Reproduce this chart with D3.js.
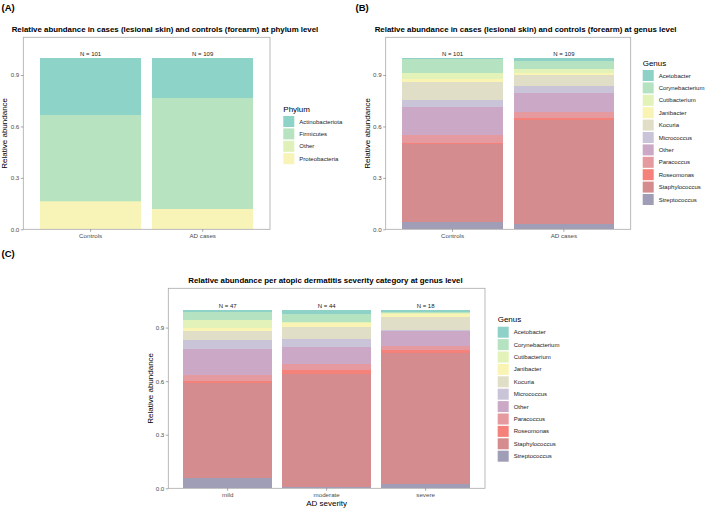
<!DOCTYPE html>
<html>
<head>
<meta charset="utf-8">
<script src="https://cdn.jsdelivr.net/npm/d3@7"></script>
<style>
  body { margin: 0; background: #fff; }
  text { font-family: "Liberation Sans", Arial, sans-serif; }
</style>
</head>
<body>
<svg id="chart" width="708" height="509"></svg>
<script>
// ---- data ----
const yTicks = [0, 0.3, 0.6, 0.9];

const cohortGroups = ["Controls", "AD cases"];
const cohortN = [101, 109];

const severityGroups = ["mild", "moderate", "severe"];
const severityN = [47, 44, 18];

const phylumKeys = ["Actinobacteriota", "Firmicutes", "Other", "Proteobacteria"];
const phylumColors = ["#8dd3c7", "#b7e3c1", "#dff0b9", "#f8f4b8"];
const phylumControls = [0.333, 0.504, 0.006, 0.157];
const phylumAD = [0.234, 0.645, 0.003, 0.118];

const genusKeys = ["Acetobacter", "Corynebacterium", "Cutibacterium", "Janibacter", "Kocuria",
  "Micrococcus", "Other", "Paracoccus", "Roseomonas", "Staphylococcus", "Streptococcus"];
const genusColors = ["#8ed1c6", "#b5e2c1", "#e2f2b8", "#f9f4b3", "#e0dec6",
  "#c9c4d8", "#cba9c6", "#e49a9e", "#f4827a", "#d48c8e", "#a09db6"];
const genusControls = [0.004, 0.087, 0.032, 0.015, 0.109, 0.039, 0.165, 0.044, 0.010, 0.454, 0.041];
const genusAD = [0.020, 0.045, 0.023, 0.013, 0.062, 0.039, 0.113, 0.035, 0.013, 0.608, 0.029];
const genusMild = [0.012, 0.045, 0.043, 0.017, 0.054, 0.047, 0.150, 0.030, 0.015, 0.529, 0.058];
const genusModerate = [0.025, 0.046, 0.006, 0.019, 0.070, 0.043, 0.093, 0.036, 0.021, 0.632, 0.009];
const genusSevere = [0.010, 0.009, 0.006, 0.015, 0.075, 0.004, 0.086, 0.021, 0.014, 0.737, 0.023];

const titleA = "Relative abundance in cases (lesional skin) and controls (forearm) at phylum level";
const titleB = "Relative abundance in cases (lesional skin) and controls (forearm) at genus level";
const titleC = "Relative abundance per atopic dermatitis severity category at genus level";

const svg = d3.select("#chart");
svg.append("rect").attr("width", 708).attr("height", 509).attr("fill", "#fff");

// タイトルの文字サイズを幅から決める
const probe = svg.append("text").attr("font-weight", "bold").attr("font-size", 10).text(titleA);
const titleSize = 10 * 307 / probe.node().getComputedTextLength();
probe.remove();

const drawPanel = (p) => {
  const g = svg.append("g");
  const rows = p.groups.map((grp, i) => {
    const r = { group: grp };
    p.keys.forEach((k, j) => r[k] = p.values[i][j]);
    return r;
  });

  const x = d3.scaleBand()
    .domain(p.groups)
    .range([p.box.left, p.box.right])
    .paddingInner(0.1)
    .paddingOuter(0.15);
  const y = d3.scaleLinear()
    .domain([0, 1.12])
    .range([p.box.bottom, p.box.top]);
  const color = d3.scaleOrdinal().domain(p.keys).range(p.colors);

  // 積み上げ棒 (先頭のカテゴリが上)
  const series = d3.stack().keys(p.keys.slice().reverse())(rows);
  g.append("g")
    .selectAll("g")
    .data(series)
    .join("g")
    .attr("fill", d => color(d.key))
    .selectAll("rect")
    .data(d => d)
    .join("rect")
    .attr("x", d => x(d.data.group))
    .attr("width", x.bandwidth())
    .attr("y", d => y(d[1]))
    .attr("height", d => y(d[0]) - y(d[1]))
    .attr("shape-rendering", "crispEdges");

  // 枠
  g.append("rect")
    .attr("x", p.box.left)
    .attr("y", p.box.top)
    .attr("width", p.box.right - p.box.left)
    .attr("height", p.box.bottom - p.box.top)
    .attr("fill", "none")
    .attr("stroke", "#a8a8a8")
    .attr("stroke-width", 0.8);

  // Y軸
  const yAxis = g.append("g")
    .attr("transform", `translate(${p.box.left},0)`)
    .call(d3.axisLeft(y)
      .tickValues(yTicks)
      .tickFormat(d3.format(".1f"))
      .tickSize(2.5)
      .tickPadding(1.5));
  yAxis.select(".domain").remove();
  yAxis.selectAll("line").attr("stroke", "#555").attr("stroke-width", 0.5);
  yAxis.selectAll("text")
    .attr("fill", "#4d4d4d")
    .attr("font-size", 6.2)
    .attr("font-family", "Liberation Sans, Arial, sans-serif");

  // X軸
  const xAxis = g.append("g")
    .attr("transform", `translate(0,${p.box.bottom})`)
    .call(d3.axisBottom(x).tickSize(2.5).tickPadding(1.5));
  xAxis.select(".domain").remove();
  xAxis.selectAll("line").attr("stroke", "#555").attr("stroke-width", 0.5);
  xAxis.selectAll("text")
    .attr("fill", "#4d4d4d")
    .attr("font-size", 6.2)
    .attr("font-family", "Liberation Sans, Arial, sans-serif");

  // N = ...
  g.selectAll(".nlab")
    .data(p.groups)
    .join("text")
    .attr("x", d => x(d) + x.bandwidth() / 2)
    .attr("y", y(1) - 2.2)
    .attr("text-anchor", "middle")
    .attr("font-size", 6)
    .attr("fill", "#1a1a1a")
    .text((d, i) => `N = ${p.counts[i]}`);

  // 軸タイトル
  g.append("text")
    .attr("transform", `translate(${p.yTitleX},${(p.box.top + p.box.bottom) / 2}) rotate(-90)`)
    .attr("text-anchor", "middle")
    .attr("font-size", 8)
    .attr("fill", "#000")
    .text("Relative abundance");
  if (p.xTitle) {
    g.append("text")
      .attr("x", (p.box.left + p.box.right) / 2)
      .attr("y", p.box.bottom + 17.5)
      .attr("text-anchor", "middle")
      .attr("font-size", 8)
      .attr("fill", "#000")
      .text(p.xTitle);
  }

  // パネルのタグとタイトル
  g.append("text")
    .attr("x", p.tagX)
    .attr("y", p.tagY)
    .attr("font-weight", "bold")
    .attr("font-size", 9.5)
    .attr("fill", "#000")
    .text(p.tag);
  g.append("text")
    .attr("x", p.titleX)
    .attr("y", p.titleY)
    .attr("font-weight", "bold")
    .attr("font-size", titleSize)
    .attr("fill", "#000")
    .text(p.title);

  // 凡例
  const lg = g.append("g").attr("transform", `translate(${p.legend.x},${p.legend.y})`);
  lg.append("text")
    .attr("x", 0)
    .attr("y", -4.5)
    .attr("font-size", 8)
    .attr("fill", "#000")
    .text(p.legend.title);
  const item = lg.selectAll(".item")
    .data(p.keys)
    .join("g")
    .attr("transform", (d, i) => `translate(0,${i * 12.4})`);
  item.append("rect")
    .attr("width", 11)
    .attr("height", 11)
    .attr("fill", d => color(d));
  item.append("text")
    .attr("x", 16)
    .attr("y", 7.6)
    .attr("font-size", 6)
    .attr("fill", "#1a1a1a")
    .text(d => d);
};

drawPanel({
  tag: "(A)", tagX: 1.5, tagY: 10.5,
  title: titleA, titleX: 11.7, titleY: 31.5,
  box: { left: 23.3, right: 270, top: 37.3, bottom: 229.3 },
  yTitleX: 7.3,
  groups: cohortGroups, counts: cohortN,
  keys: phylumKeys, colors: phylumColors,
  values: [phylumControls, phylumAD],
  legend: { title: "Phylum", x: 283.3, y: 116 }
});

drawPanel({
  tag: "(B)", tagX: 355.5, tagY: 10.5,
  title: titleB, titleX: 374.7, titleY: 31.5,
  box: { left: 385.7, right: 630.7, top: 37.3, bottom: 229.3 },
  yTitleX: 369.7,
  groups: cohortGroups, counts: cohortN,
  keys: genusKeys, colors: genusColors,
  values: [genusControls, genusAD],
  legend: { title: "Genus", x: 642.7, y: 70 }
});

drawPanel({
  tag: "(C)", tagX: 1.5, tagY: 257,
  title: titleC, titleX: 188.3, titleY: 282.5,
  box: { left: 168.3, right: 485, top: 288.3, bottom: 488.3 },
  yTitleX: 152.7,
  xTitle: "AD severity",
  groups: severityGroups, counts: severityN,
  keys: genusKeys, colors: genusColors,
  values: [genusMild, genusModerate, genusSevere],
  legend: { title: "Genus", x: 497.7, y: 326.7 }
});
</script>
</body>
</html>
